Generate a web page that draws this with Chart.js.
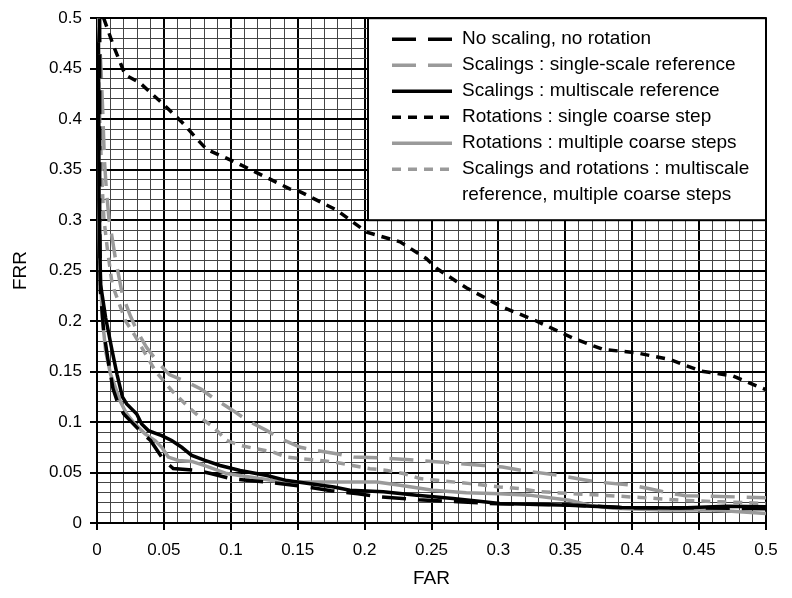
<!DOCTYPE html>
<html>
<head>
<meta charset="utf-8">
<script src="https://cdn.jsdelivr.net/npm/chart.js@4.4.1/dist/chart.umd.min.js"></script>
<style>
  html, body { margin: 0; padding: 0; background: #fff; }
  #wrap { width: 792px; height: 598px; }
</style>
</head>
<body>
<div id="wrap"><canvas id="frrChart" width="792" height="598"></canvas></div>
<script>
// Major tick labels (every 0.05), minor grid every 0.01
const xTickLabels = ['0', '0.05', '0.1', '0.15', '0.2', '0.25', '0.3', '0.35', '0.4', '0.45', '0.5'];
const yTickLabels = ['0', '0.05', '0.1', '0.15', '0.2', '0.25', '0.3', '0.35', '0.4', '0.45', '0.5'];

const seriesNames = [
    'No scaling, no rotation',
    'Scalings : single-scale reference',
    'Scalings : multiscale reference',
    'Rotations : single coarse step',
    'Rotations : multiple coarse steps',
    'Scalings and rotations : multiscale\nreference, multiple coarse steps'
];

// No scaling, no rotation (black long dash)
const noScaleX = [0.002, 0.002, 0.0025, 0.005, 0.009, 0.012, 0.0155, 0.02, 0.032, 0.04, 0.05, 0.057, 0.075, 0.085, 0.1, 0.114, 0.128, 0.15, 0.175, 0.195, 0.21, 0.24, 0.27, 0.3, 0.35, 0.4, 0.45, 0.5];
const noScaleY = [0.5, 0.3, 0.23, 0.19, 0.155, 0.133, 0.119, 0.108, 0.0915, 0.0817, 0.062, 0.054, 0.052, 0.049, 0.044, 0.042, 0.0405, 0.037, 0.032, 0.029, 0.026, 0.023, 0.021, 0.019, 0.018, 0.015, 0.015, 0.014];

// Scalings : single-scale reference (gray long dash)
const singleScaleX = [0.001, 0.003, 0.0045, 0.0055, 0.007, 0.009, 0.011, 0.014, 0.019, 0.025, 0.03, 0.037, 0.045, 0.054, 0.065, 0.078, 0.088, 0.101, 0.113, 0.127, 0.137, 0.152, 0.164, 0.179, 0.192, 0.21, 0.234, 0.261, 0.289, 0.303, 0.318, 0.346, 0.373, 0.4, 0.413, 0.428, 0.44, 0.46, 0.5];
const singleScaleY = [0.5, 0.45, 0.4, 0.36, 0.33, 0.3, 0.285, 0.26, 0.226, 0.205, 0.19, 0.174, 0.16, 0.147, 0.141, 0.1325, 0.1227, 0.112, 0.101, 0.0915, 0.0837, 0.075, 0.0718, 0.0686, 0.0653, 0.0645, 0.0626, 0.06, 0.057, 0.0554, 0.052, 0.047, 0.0407, 0.0374, 0.034, 0.0295, 0.027, 0.0265, 0.025];

// Scalings : multiscale reference (black solid)
const multiScaleX = [0.001, 0.0015, 0.0027, 0.0065, 0.0114, 0.015, 0.019, 0.0222, 0.0297, 0.0334, 0.0384, 0.0484, 0.0558, 0.0633, 0.0708, 0.0807, 0.092, 0.107, 0.127, 0.142, 0.177, 0.189, 0.214, 0.239, 0.266, 0.289, 0.301, 0.353, 0.391, 0.436, 0.47, 0.5];
const multiScaleY = [0.5, 0.32, 0.236, 0.203, 0.17, 0.147, 0.125, 0.118, 0.108, 0.098, 0.0915, 0.0866, 0.0817, 0.075, 0.067, 0.062, 0.057, 0.052, 0.047, 0.042, 0.0357, 0.0325, 0.031, 0.0276, 0.0243, 0.021, 0.0194, 0.0177, 0.0154, 0.0148, 0.0165, 0.016];

// Rotations : single coarse step (black short dash)
const rotSingleX = [0.005, 0.0125, 0.021, 0.032, 0.0486, 0.0635, 0.075, 0.082, 0.104, 0.124, 0.144, 0.152, 0.179, 0.2016, 0.2265, 0.246, 0.254, 0.276, 0.3036, 0.326, 0.356, 0.378, 0.403, 0.428, 0.451, 0.475, 0.5];
const rotSingleY = [0.5, 0.472, 0.444, 0.436, 0.416, 0.397, 0.38, 0.37, 0.357, 0.344, 0.331, 0.328, 0.31, 0.288, 0.2785, 0.262, 0.252, 0.233, 0.2135, 0.2015, 0.183, 0.172, 0.1686, 0.162, 0.1506, 0.1457, 0.132];

// Rotations : multiple coarse steps (gray solid)
const rotMultiX = [0.001, 0.0015, 0.002, 0.004, 0.0065, 0.0102, 0.0122, 0.0172, 0.0222, 0.0284, 0.0359, 0.0434, 0.0484, 0.0533, 0.0608, 0.0708, 0.08, 0.097, 0.114, 0.139, 0.177, 0.209, 0.2265, 0.251, 0.276, 0.301, 0.323, 0.353, 0.368, 0.386, 0.423, 0.46, 0.5];
const rotMultiY = [0.5, 0.3, 0.26, 0.203, 0.17, 0.147, 0.14, 0.121, 0.108, 0.098, 0.0883, 0.0817, 0.075, 0.0653, 0.062, 0.061, 0.057, 0.049, 0.0456, 0.0407, 0.0407, 0.0407, 0.0374, 0.0325, 0.03, 0.029, 0.0276, 0.0226, 0.0177, 0.0145, 0.0128, 0.0128, 0.0095];

// Scalings and rotations (gray short dash)
const bothX = [0.0005, 0.002, 0.004, 0.0052, 0.0077, 0.0114, 0.0214, 0.0277, 0.0336, 0.0436, 0.056, 0.0686, 0.077, 0.087, 0.097, 0.107, 0.119, 0.1317, 0.1417, 0.154, 0.1666, 0.179, 0.191, 0.204, 0.2167, 0.229, 0.2414, 0.254, 0.279, 0.301, 0.316, 0.331, 0.346, 0.376, 0.406, 0.436, 0.466, 0.5];
const bothY = [0.5, 0.4, 0.33, 0.301, 0.272, 0.236, 0.2, 0.187, 0.1735, 0.1506, 0.131, 0.1145, 0.1046, 0.095, 0.0817, 0.0768, 0.0735, 0.0702, 0.0653, 0.0636, 0.062, 0.06, 0.057, 0.0538, 0.0521, 0.049, 0.044, 0.0423, 0.039, 0.0357, 0.034, 0.031, 0.0298, 0.0276, 0.0253, 0.0226, 0.021, 0.0194];

const FONT = '"Liberation Sans", Arial, Helvetica, sans-serif';
const GRAY = '#9a9a9a';
const LONG_DASH = [24, 12];
const SHORT_DASH = [9, 7];

function toPoints(xs, ys) {
    return xs.map((x, i) => ({ x: x, y: ys[i] }));
}

function isMajor(value) {
    return Math.round(value * 100) % 5 === 0;
}

// Draws the boxed legend in the upper right of the plot
const legendBox = {
    id: 'legendBox',
    afterDraw(chart) {
        const ctx = chart.ctx;
        const area = chart.chartArea;
        const boxW = 398, boxH = 202;
        const left = area.right - boxW;
        const top = area.top;
        ctx.save();
        ctx.fillStyle = '#fff';
        ctx.fillRect(left, top, boxW, boxH);
        ctx.strokeStyle = '#000';
        ctx.lineWidth = 2;
        ctx.strokeRect(left, top, boxW, boxH);
        ctx.font = '19px ' + FONT;
        ctx.textBaseline = 'middle';
        let y = top + 21;
        chart.data.datasets.forEach(ds => {
            ctx.strokeStyle = ds.borderColor;
            ctx.lineWidth = ds.borderWidth;
            ctx.setLineDash(ds.borderDash || []);
            ctx.beginPath();
            ctx.moveTo(left + 24, y);
            ctx.lineTo(left + 84, y);
            ctx.stroke();
            ctx.setLineDash([]);
            ctx.fillStyle = '#000';
            ds.label.split('\n').forEach(line => {
                ctx.fillText(line, left + 94, y);
                y += 26;
            });
        });
        ctx.restore();
    }
};

function makeDataset(name, xs, ys, color, dash) {
    return {
        label: name,
        data: toPoints(xs, ys),
        borderColor: color,
        borderWidth: 3.5,
        borderDash: dash,
        pointRadius: 0,
        showLine: true,
        fill: false,
        tension: 0
    };
}

function gridOptions() {
    return {
        color: ctx => isMajor(ctx.tick.value) ? '#000' : '#444',
        lineWidth: ctx => isMajor(ctx.tick.value) ? 2 : 1,
        tickColor: ctx => isMajor(ctx.tick.value) ? '#000' : 'rgba(0,0,0,0)',
        tickWidth: 2,
        tickLength: 7
    };
}

function renderChart() {
    const ctx = document.getElementById('frrChart').getContext('2d');

    new Chart(ctx, {
        type: 'scatter',
        data: {
            datasets: [
                makeDataset(seriesNames[0], noScaleX, noScaleY, '#000', LONG_DASH),
                makeDataset(seriesNames[1], singleScaleX, singleScaleY, GRAY, LONG_DASH),
                makeDataset(seriesNames[2], multiScaleX, multiScaleY, '#000', []),
                makeDataset(seriesNames[3], rotSingleX, rotSingleY, '#000', SHORT_DASH),
                makeDataset(seriesNames[4], rotMultiX, rotMultiY, GRAY, []),
                makeDataset(seriesNames[5], bothX, bothY, GRAY, SHORT_DASH)
            ]
        },
        options: {
            responsive: false,
            animation: false,
            devicePixelRatio: 1,
            layout: { padding: { left: 0, top: 15, right: 26, bottom: 0 } },
            plugins: {
                legend: { display: false },
                tooltip: { enabled: false }
            },
            scales: {
                x: {
                    type: 'linear',
                    min: 0,
                    max: 0.5,
                    border: { color: '#000', width: 2 },
                    grid: gridOptions(),
                    ticks: {
                        stepSize: 0.01,
                        autoSkip: false,
                        maxRotation: 0,
                        padding: 10,
                        color: '#000',
                        font: { family: FONT, size: 17 },
                        callback: (value, index) => index % 5 === 0 ? xTickLabels[index / 5] : ''
                    },
                    title: {
                        display: true,
                        text: 'FAR',
                        color: '#000',
                        font: { family: FONT, size: 19 },
                        padding: { top: 0, bottom: 8 }
                    },
                    afterFit: scale => { scale.height = 75; }
                },
                y: {
                    type: 'linear',
                    min: 0,
                    max: 0.5,
                    border: { color: '#000', width: 2 },
                    grid: gridOptions(),
                    ticks: {
                        stepSize: 0.01,
                        autoSkip: false,
                        padding: 8,
                        color: '#000',
                        font: { family: FONT, size: 17 },
                        callback: (value, index) => index % 5 === 0 ? yTickLabels[index / 5] : ''
                    },
                    title: {
                        display: true,
                        text: 'FRR',
                        color: '#000',
                        font: { family: FONT, size: 19 },
                        padding: { top: 9, bottom: 0 }
                    },
                    afterFit: scale => { scale.width = 97; }
                }
            }
        },
        plugins: [legendBox]
    });
}

renderChart();
</script>
</body>
</html>
